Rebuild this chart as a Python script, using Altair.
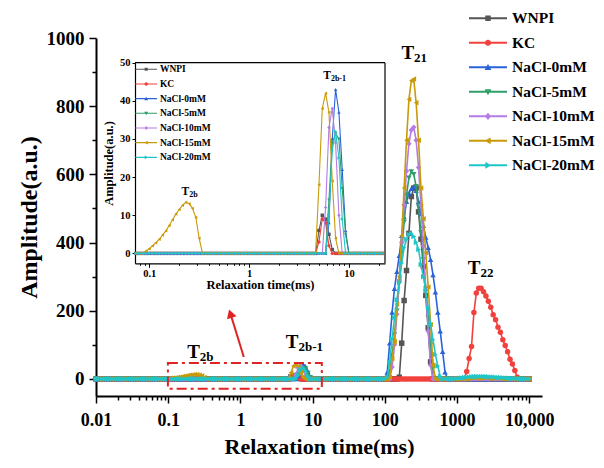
import altair as alt
import pandas as pd

# ---------------- data ----------------
SERIES = ["WNPI", "KC", "NaCl-0mM", "NaCl-5mM", "NaCl-10mM", "NaCl-15mM", "NaCl-20mM"]
COLORS = ["#555555", "#f2403c", "#2a63d8", "#2f9e6a", "#b47ce4", "#c89a08", "#1fc5c7"]
MARKERS = ["square", "circle", "triangle-up", "triangle-down", "diamond", "triangle-left", "triangle-right"]

# T2 sampling grid (ms): 30 points per decade from 0.01 to 10000
MANTISSA = [1.000, 1.080, 1.166, 1.259, 1.359, 1.468, 1.585, 1.711, 1.848, 1.995,
            2.154, 2.326, 2.512, 2.712, 2.929, 3.162, 3.415, 3.687, 3.981, 4.299,
            4.642, 5.012, 5.412, 5.843, 6.310, 6.813, 7.356, 7.943, 8.577, 9.261]
DECADES = [0.01, 0.1, 1, 10, 100, 1000]
LAST_T2 = 10000

# non-zero parts of each distribution: (first T2 in ms, consecutive amplitudes)
SEGMENTS = {
    "WNPI": [
        (5.012, [6, 10, 9, 5, 1]),
        (158.5, [5, 105, 230, 318, 427, 535, 560, 560, 490, 410, 330, 245, 150, 50]),
    ],
    "KC": [
        (5.012, [3, 9, 8, 2]),
        (1359, [22, 60, 95, 195, 252, 266, 266, 256, 243, 228, 210, 188, 174, 152,
                137, 115, 98, 80, 58, 44, 25, 5]),
    ],
    "NaCl-0mM": [
        (6.310, [8, 30, 43, 37, 22, 6]),
        (108.0, [20, 105, 195, 265, 315, 362, 420, 475, 520, 545, 558, 564, 552, 520,
                 485, 450, 415, 385, 350, 305, 255, 195, 140, 80, 20]),
    ],
    "NaCl-5mM": [
        (6.310, [14, 29, 31.5, 30, 17, 5]),
        (116.6, [20, 70, 130, 200, 280, 370, 460, 540, 590, 608, 600, 565, 505, 430,
                 350, 265, 180, 100, 30]),
    ],
    "NaCl-10mM": [
        (5.843, [12, 33, 38, 29, 10]),
        (125.9, [35, 100, 190, 290, 400, 510, 610, 690, 730, 738, 700, 620, 510, 390,
                 260, 140, 40]),
    ],
    "NaCl-15mM": [
        (0.09261, [0.6, 1.2, 2.0, 2.8, 3.7, 4.8, 5.9, 7.3, 8.8, 10.3, 11.5, 12.6, 13.4,
                   13.0, 11.8, 9.4, 4.0]),
        (4.642, [0.3, 18, 38, 42, 37, 19, 4]),
        (116.6, [5, 60, 110, 220, 300, 420, 560, 700, 820, 875, 880, 810, 700, 560,
                 470, 370, 270, 160, 40]),
        (1359, [1, 2, 2.5, 3, 3, 3, 3, 3, 2.5, 2.5, 2, 2, 1.5, 1, 1, 0.5]),
    ],
    "NaCl-20mM": [
        (6.310, [10, 27, 32, 25, 9]),
        (108.0, [5, 50, 118, 180, 232, 282, 340, 385, 410, 424, 427, 418, 400, 380,
                 336, 300, 260, 208, 160, 115, 72, 38, 8]),
        (1000, [1, 2, 3, 4, 5, 6, 6.5, 7, 7.5, 7.5, 7.5, 7, 7, 6.5, 6, 5.5, 5, 4.5, 4,
                3.5, 3, 2.5, 2, 1.5, 1, 0.5]),
    ],
}

# axes
MAIN_X_DOMAIN = [0.01, 15000]
MAIN_Y_DOMAIN = [-50, 1000]
MAIN_X_TICKS = [0.01, 0.1, 1, 10, 100, 1000, 10000]
MAIN_X_LABELS = ["0.01", "0.1", "1", "10", "100", "1000", "10,000"]
MINOR_MULT = [2, 3, 4, 5, 6, 7, 8, 9]
MAIN_Y_TICKS = [0, 200, 400, 600, 800, 1000]
MAIN_Y_MINOR = [100, 300, 500, 700, 900]

INSET_X_DOMAIN = [0.072, 23]
INSET_Y_DOMAIN = [-2.6, 50]
INSET_X_TICKS = [0.1, 1, 10]
INSET_X_LABELS = ["0.1", "1", "10"]
INSET_X_MINOR = [0.08, 0.09, 0.2, 0.3, 0.4, 0.5, 0.6, 0.7, 0.8, 0.9,
                 2, 3, 4, 5, 6, 7, 8, 9, 20]
INSET_Y_TICKS = [0, 10, 20, 30, 40, 50]

# annotations
ANNOT_MAIN = {"big": ["T", "T", "T", "T"], "sub": ["21", "22", "2b", "2b-1"],
              "x": [254, 2113, 0.274, 6.38], "y": [955, 325, 79, 109]}
ANNOT_INSET = {"big": ["T", "T"], "sub": ["2b", "2b-1"], "x": [0.251, 6.6], "y": [16, 46.5]}
ZOOM_BOX = {"x": [0.099], "x2": [13.4], "y": [-29], "y2": [47]}
ARROW = {"x": [1.114], "y": [64.5], "x2": [0.727], "y2": [191.5]}

# ---------------- build table ----------------
grid = [round(d * m, 6) for d in DECADES for m in MANTISSA] + [LAST_T2]
rows = []
for s in SERIES:
    amp = [0.0] * len(grid)
    for start, vals in SEGMENTS[s]:
        i0 = min(range(len(grid)), key=lambda i: abs(grid[i] - start) / start)
        for k, v in enumerate(vals):
            amp[i0 + k] = v
    for t, a in zip(grid, amp):
        rows.append({"series": s, "t2": t, "amp": a})
df = pd.DataFrame(rows)
df_inset = df[(df["t2"] >= INSET_X_DOMAIN[0]) & (df["t2"] <= INSET_X_DOMAIN[1])]

# ---------------- layout / style ----------------
FONT = "Liberation Serif"
RED = "#e02424"
W, H = 446, 358
PAD = {"left": 88, "top": 30, "right": 54, "bottom": 62}
INSET_X_RANGE = [39, 289]
INSET_Y_RANGE = [225.3, 24.7]

LEGEND_PATHS_MARK = [
    "M-0.36,-0.36H0.36V0.36H-0.36Z",
    "M-0.4,0A0.4,0.4,0,1,1,0.4,0A0.4,0.4,0,1,1,-0.4,0Z",
    "M0,-0.45L0.45,0.35H-0.45Z",
    "M0,0.45L-0.45,-0.35H0.45Z",
    "M0,-0.48L0.4,0L0,0.48L-0.4,0Z",
    "M-0.45,0L0.35,-0.45V0.45Z",
    "M0.45,0L-0.35,0.45V-0.45Z",
]
LEGEND_LINE = "M-2.5,-0.13H2.5V0.13H-2.5Z"
LEGEND_PATHS = [LEGEND_LINE + p for p in LEGEND_PATHS_MARK]


def label_expr(values, labels):
    expr = "''"
    for v, lab in reversed(list(zip(values, labels))):
        expr = f"(abs(datum.value - {v}) < {v * 1e-3}) ? '{lab}' : {expr}"
    return expr


def major_test(values):
    return "indexof([" + ",".join(str(v) for v in values) + "], datum.value) >= 0"


main_x_minor = [m * d for d in DECADES for m in MINOR_MULT]

MAIN_X_AXIS = alt.Axis(
    values=MAIN_X_TICKS + main_x_minor, labelExpr=label_expr(MAIN_X_TICKS, MAIN_X_LABELS),
    tickSize={"condition": {"test": major_test(MAIN_X_TICKS), "value": 7}, "value": 4},
    tickWidth=1.5, tickColor="black", domainColor="black", domainWidth=2, grid=False,
    labelFont=FONT, labelFontSize=18, labelFontWeight="bold", labelColor="black",
    labelPadding=8, labelFlush=False, labelOverlap=False,
    title="Relaxation time(ms)", titleFont=FONT, titleFontSize=22, titleFontWeight="bold",
    titleColor="black", titlePadding=7, orient="bottom")
MAIN_Y_AXIS = alt.Axis(
    values=MAIN_Y_TICKS + MAIN_Y_MINOR, format="d",
    labelExpr="datum.value % 200 === 0 ? datum.label : ''",
    tickSize={"condition": {"test": "datum.value % 200 === 0", "value": 7}, "value": 4},
    tickWidth=1.5, tickColor="black", domainColor="black", domainWidth=2, grid=False,
    labelFont=FONT, labelFontSize=19, labelFontWeight="bold", labelColor="black",
    labelPadding=5, labelOverlap=False,
    title="Amplitude(a.u.)", titleFont=FONT, titleFontSize=24, titleFontWeight="bold",
    titleColor="black", titlePadding=5, orient="left")
INSET_X_AXIS = alt.Axis(
    values=INSET_X_TICKS + INSET_X_MINOR, labelExpr=label_expr(INSET_X_TICKS, INSET_X_LABELS),
    tickSize={"condition": {"test": major_test(INSET_X_TICKS), "value": 4}, "value": 2},
    tickWidth=1, tickColor="black", domainColor="black", domainWidth=1.2, grid=False,
    labelFont=FONT, labelFontSize=10.5, labelFontWeight="bold", labelColor="black",
    labelPadding=1, labelFlush=False, labelOverlap=False,
    title="Relaxation time(ms)", titleFont=FONT, titleFontSize=12.5, titleFontWeight="bold",
    titleColor="black", titleBaseline="middle", titleY=21,
    orient="bottom", offset=INSET_Y_RANGE[0] - H)
INSET_Y_AXIS = alt.Axis(
    values=INSET_Y_TICKS, format="d", tickSize=3,
    tickWidth=1, tickColor="black", domainColor="black", domainWidth=1.2, grid=False,
    labelFont=FONT, labelFontSize=10.5, labelFontWeight="bold", labelColor="black",
    labelPadding=2, labelOverlap=False,
    title="Amplitude(a.u.)", titleFont=FONT, titleFontSize=12.5, titleFontWeight="bold",
    titleColor="black", titlePadding=4, orient="left", offset=-INSET_X_RANGE[0])

MAIN_X_SCALE = alt.Scale(type="log", domain=MAIN_X_DOMAIN, nice=False)
MAIN_Y_SCALE = alt.Scale(domain=MAIN_Y_DOMAIN, nice=False, zero=False)
INSET_X_SCALE = alt.Scale(type="log", domain=INSET_X_DOMAIN, range=INSET_X_RANGE, nice=False)
INSET_Y_SCALE = alt.Scale(domain=INSET_Y_DOMAIN, range=INSET_Y_RANGE, nice=False, zero=False)


def mx(f="t2"):
    return alt.X(f, type="quantitative", scale=MAIN_X_SCALE, axis=MAIN_X_AXIS)


def my(f="amp"):
    return alt.Y(f, type="quantitative", scale=MAIN_Y_SCALE, axis=MAIN_Y_AXIS)


def ix(f="t2"):
    return alt.X(f, type="quantitative", scale=INSET_X_SCALE, axis=INSET_X_AXIS)


def iy(f="amp"):
    return alt.Y(f, type="quantitative", scale=INSET_Y_SCALE, axis=INSET_Y_AXIS)


def legend(x, y, size, sym_off, lab_off, font_size, row_pad):
    return alt.Legend(orient="none", legendX=x, legendY=y, title=None, padding=0,
                      symbolSize=size, symbolStrokeWidth=0, symbolOffset=sym_off,
                      labelOffset=lab_off, labelFont=FONT, labelFontSize=font_size,
                      labelFontWeight="bold", labelColor="black", rowPadding=row_pad,
                      labelLimit=300)


def legend_layer(data, lg):
    return alt.Chart(data).transform_filter("false").mark_point(filled=True, opacity=1).encode(
        fill=alt.Fill("series:N", scale=alt.Scale(domain=SERIES, range=COLORS), legend=lg),
        shape=alt.Shape("series:N", scale=alt.Scale(domain=SERIES, range=LEGEND_PATHS), legend=lg),
    )


# ---------------- main panel ----------------
main_layers = []
for s, c, m in zip(SERIES, COLORS, MARKERS):
    sub = alt.Chart(df).transform_filter(alt.datum.series == s)
    main_layers.append(sub.mark_line(color=c, strokeWidth=1.6).encode(x=mx(), y=my()))
    main_layers.append(sub.mark_point(shape=m, filled=True, color=c, size=30, opacity=1)
                       .encode(x=mx(), y=my()))

ann_main = alt.Chart(pd.DataFrame(ANNOT_MAIN))
main_layers.append(ann_main.mark_text(align="right", baseline="middle", font=FONT, fontWeight="bold",
                                      fontSize=19, color="black")
                   .encode(x=mx("x"), y=my("y"), text="big:N"))
main_layers.append(ann_main.mark_text(align="left", baseline="middle", font=FONT, fontWeight="bold",
                                      fontSize=13, dy=5, color="black")
                   .encode(x=mx("x"), y=my("y"), text="sub:N"))
main_layers.append(alt.Chart(pd.DataFrame(ZOOM_BOX))
                   .mark_rect(fillOpacity=0, stroke=RED, strokeWidth=2, strokeDash=[10, 4, 3, 4])
                   .encode(x=mx("x"), x2="x2", y=my("y"), y2="y2"))
arrow_df = pd.DataFrame(ARROW)
main_layers.append(alt.Chart(arrow_df).mark_rule(color=RED, strokeWidth=2)
                   .encode(x=mx("x"), x2="x2", y=my("y"), y2="y2"))
main_layers.append(alt.Chart(arrow_df).mark_point(shape="triangle-up", filled=True, size=100,
                                                  angle=342, color=RED, opacity=1)
                   .encode(x=mx("x2"), y=my("y2")))
main_layers.append(legend_layer(df, legend(372, -27.7, 231, 12, 16, 15.5, 7.5)))
main_group = alt.layer(*main_layers)

# ---------------- inset panel ----------------
inset_layers = []
for s, c, m in zip(SERIES, COLORS, MARKERS):
    sub = alt.Chart(df_inset).transform_filter(alt.datum.series == s)
    inset_layers.append(sub.mark_line(color=c, strokeWidth=1.1).encode(x=ix(), y=iy()))
    inset_layers.append(sub.mark_point(shape=m, filled=True, color=c, size=12, opacity=1)
                        .encode(x=ix(), y=iy()))
ann_in = alt.Chart(pd.DataFrame(ANNOT_INSET))
inset_layers.append(ann_in.mark_text(align="right", baseline="middle", font=FONT, fontWeight="bold",
                                     fontSize=11.5, color="black")
                    .encode(x=ix("x"), y=iy("y"), text="big:N"))
inset_layers.append(ann_in.mark_text(align="left", baseline="middle", font=FONT, fontWeight="bold",
                                     fontSize=8, dy=3, color="black")
                    .encode(x=ix("x"), y=iy("y"), text="sub:N"))
frame_top = pd.DataFrame({"x": [INSET_X_DOMAIN[0]], "x2": [INSET_X_DOMAIN[1]], "y": [INSET_Y_DOMAIN[1]]})
frame_right = pd.DataFrame({"x": [INSET_X_DOMAIN[1]], "y": [INSET_Y_DOMAIN[0]], "y2": [INSET_Y_DOMAIN[1]]})
inset_layers.append(alt.Chart(frame_top).mark_rule(color="black", strokeWidth=1.2)
                    .encode(x=ix("x"), x2="x2", y=iy("y")))
inset_layers.append(alt.Chart(frame_right).mark_rule(color="black", strokeWidth=1.2)
                    .encode(x=ix("x"), y=iy("y"), y2="y2"))
inset_layers.append(legend_layer(df_inset, legend(39, 26.55, 74.6, 6.45, 9, 9.5, 3.67)))
inset_group = alt.layer(*inset_layers)

chart = (
    alt.layer(main_group, inset_group)
    .resolve_scale(x="independent", y="independent", fill="independent", shape="independent")
    .properties(width=W, height=H, autosize=alt.AutoSizeParams(type="none"), padding=PAD)
    .configure_view(stroke="transparent")
)

chart.save("out.html", embed_options={"renderer": "svg", "actions": False})
